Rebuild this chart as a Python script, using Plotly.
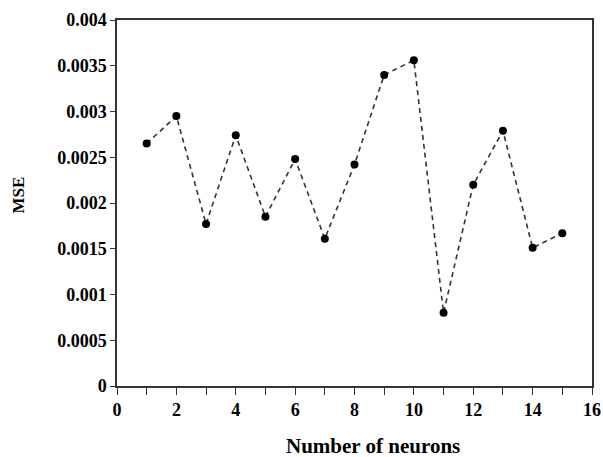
import plotly.graph_objects as go

neurons = list(range(1, 16))
mse = [0.00265, 0.00295, 0.00177, 0.00274, 0.00185, 0.00248, 0.00161, 0.00242,
       0.00340, 0.00356, 0.00080, 0.00220, 0.00279, 0.00151, 0.00167]

x_tickvals = list(range(0, 17))
x_ticktext = [str(v) if v % 2 == 0 else "" for v in x_tickvals]
y_tickvals = [0, 0.0005, 0.001, 0.0015, 0.002, 0.0025, 0.003, 0.0035, 0.004]
y_ticktext = ["0", "0.0005", "0.001", "0.0015", "0.002", "0.0025", "0.003", "0.0035", "0.004"]
x_title = "Number of neurons"
y_title = "MSE"

font_family = "Liberation Serif, Times New Roman, serif"


def bold(labels):
    return ["<b>" + t + "</b>" if t else "" for t in labels]


fig = go.Figure()
fig.add_trace(go.Scatter(
    x=neurons, y=mse, mode="lines+markers",
    line=dict(color="#333333", width=1.6, dash="5px,4px"),
    marker=dict(color="black", size=8),
    showlegend=False,
))

axis_common = dict(
    showline=True, linecolor="#333333", linewidth=1.5, mirror=True,
    ticks="outside", tickcolor="#333333", tickwidth=1.2,
    showgrid=False, zeroline=False, automargin=False,
    tickfont=dict(family=font_family, size=18, color="black"),
)

fig.update_layout(
    width=603, height=457,
    margin=dict(l=117, r=11, t=20, b=71),
    plot_bgcolor="white", paper_bgcolor="white",
    font=dict(family=font_family, color="black"),
    xaxis=dict(range=[0, 16], tickvals=x_tickvals, ticktext=bold(x_ticktext), ticklen=7,
               **axis_common),
    yaxis=dict(range=[0, 0.004], tickvals=y_tickvals, ticktext=bold(y_ticktext), ticklen=5,
               **axis_common),
    annotations=[
        dict(text="<b>" + x_title + "</b>", xref="paper", yref="paper", x=0.538, y=-0.164,
             showarrow=False, xanchor="center", yanchor="middle",
             font=dict(family=font_family, size=21, color="black")),
        dict(text="<b>" + y_title + "</b>", xref="paper", yref="paper", x=-0.207, y=0.522,
             showarrow=False, xanchor="center", yanchor="middle", textangle=-90,
             font=dict(family=font_family, size=17, color="black")),
    ],
)

fig.write_html(
    "out.html",
    config={"displayModeBar": False},
    post_script="document.body.style.margin='0';document.body.style.overflow='hidden';",
)
